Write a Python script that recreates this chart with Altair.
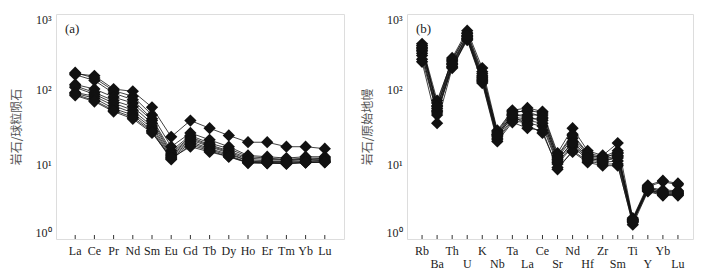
import altair as alt
import pandas as pd

# ---------------- data ----------------
ree = ["La", "Ce", "Pr", "Nd", "Sm", "Eu", "Gd", "Tb", "Dy", "Ho", "Er", "Tm", "Yb", "Lu"]
ree_s1 = [160, 150, 100, 93, 57, 23, 38, 30, 24, 19.5, 19.5, 17, 17, 16]
ree_s2 = [165, 140, 95, 80, 45, 17, 26, 21, 17, 13, 12.5, 12, 12.5, 12.5]
ree_s3 = [155, 130, 88, 72, 40, 15, 24, 19, 16, 12.5, 12, 11.5, 12, 12]
ree_s4 = [115, 100, 78, 65, 38, 14, 23, 18, 15, 12, 11.5, 11.5, 11.5, 12]
ree_s5 = [110, 90, 70, 58, 35, 13.5, 22, 17.5, 14.5, 11.5, 11, 11, 11.5, 11.5]
ree_s6 = [105, 85, 65, 52, 32, 13, 21, 17, 14, 11, 10.8, 10.8, 11, 11.2]
ree_s7 = [90, 80, 60, 48, 30, 12.5, 20, 16, 13.5, 11, 10.5, 10.5, 10.8, 11]
ree_s8 = [88, 75, 55, 45, 28, 12, 19, 15.5, 13, 10.5, 10.3, 10.3, 10.5, 10.8]
ree_s9 = [85, 70, 52, 42, 27, 11.5, 18, 15, 12.5, 10.3, 10.2, 10.2, 10.4, 10.6]
ree_s10 = [82, 68, 50, 40, 26, 12, 17, 14.5, 12.5, 10.5, 10.5, 10, 10.5, 10.5]

spider = ["Rb", "Ba", "Th", "U", "K", "Nb", "Ta", "La", "Ce", "Sr", "Nd", "Hf", "Zr", "Sm", "Ti", "Y", "Yb", "Lu"]
sp_s1 = [400, 55, 260, 600, 190, 28, 52, 56, 50, 14, 30, 15, 13, 19, 1.9, 5.2, 6.0, 5.5]
sp_s2 = [380, 70, 240, 560, 170, 26, 48, 52, 48, 13, 25, 14, 12.5, 15, 1.85, 5.0, 5.8, 5.3]
sp_s3 = [350, 60, 230, 520, 150, 25, 45, 45, 45, 12, 22, 13, 12, 14, 1.8, 4.8, 4.2, 4.2]
sp_s4 = [330, 50, 220, 500, 140, 24, 42, 40, 40, 11, 20, 12.5, 11.5, 13, 1.75, 4.7, 4.0, 4.0]
sp_s5 = [300, 45, 210, 480, 130, 22, 40, 38, 35, 10.5, 18, 12, 11, 12, 1.7, 4.6, 3.9, 3.9]
sp_s6 = [280, 52, 200, 460, 125, 21, 38, 35, 32, 10, 17, 11.5, 10.5, 11, 1.7, 4.5, 4.1, 4.1]
sp_s7 = [230, 35, 190, 450, 120, 20, 36, 30, 28, 8.5, 15, 11, 10, 10, 1.55, 4.3, 3.8, 3.8]
sp_s8 = [320, 65, 250, 550, 160, 27, 50, 50, 42, 12.5, 24, 13.5, 12, 14, 1.8, 4.9, 4.5, 4.4]
sp_s9 = [250, 48, 195, 470, 135, 23, 44, 33, 26, 9, 14.5, 10.5, 9.5, 9.5, 1.65, 4.4, 3.9, 4.0]
sp_s10 = [360, 58, 215, 510, 145, 24.5, 46, 42, 38, 11.5, 19, 12, 11, 12.5, 1.75, 4.8, 4.3, 4.3]

ree_series = [ree_s1, ree_s2, ree_s3, ree_s4, ree_s5, ree_s6, ree_s7, ree_s8, ree_s9, ree_s10]
sp_series = [sp_s1, sp_s2, sp_s3, sp_s4, sp_s5, sp_s6, sp_s7, sp_s8, sp_s9, sp_s10]

y_ticks = [1, 10, 100, 1000]

SERIF = "Liberation Serif, Times New Roman, serif"


def make_df(elems, series):
    rows = []
    for k, s in enumerate(series):
        for i, (e, v) in enumerate(zip(elems, s)):
            rows.append({"idx": i, "elem": e, "value": v, "series": f"s{k+1}"})
    return pd.DataFrame(rows)


def make_panel(elems, series, ytitle, tag, W, H, staggered):
    df = make_df(elems, series)
    n = len(elems)
    lab = pd.DataFrame({"idx": list(range(n)), "elem": elems,
                        "row": [(i % 2 if staggered else 0) for i in range(n)]})
    xs = alt.Scale(domain=[-1, n], nice=False, zero=False)
    ys = alt.Scale(type="log", domain=[1, 1000], nice=False)
    x = alt.X("idx:Q", scale=xs, axis=None)
    yaxis = alt.Axis(values=y_ticks, grid=False, ticks=False, domain=False,
                     labelExpr="datum.value == 1 ? '10⁰' : datum.value == 10 ? '10¹' : datum.value == 100 ? '10²' : '10³'",
                     labelFont=SERIF, labelFontSize=12, labelColor="#222",
                     labelFlush=True,
                     labelPadding=5, minExtent=23, maxExtent=23,
                     title=ytitle, titleFont="Noto Sans CJK SC", titleFontSize=12,
                     titleFontWeight="normal", titleColor="#555", titlePadding=10)
    y = alt.Y("value:Q", scale=ys, axis=yaxis)

    base = alt.Chart(df)
    lines = base.mark_line(color="#111", strokeWidth=0.8).encode(x=x, y=y, detail="series:N")
    pts = base.mark_point(shape="diamond", filled=True, color="#111", size=150, opacity=1).encode(
        x=x, y=y, detail="series:N")

    labc = alt.Chart(lab)
    ticks = labc.mark_rule(color="#333", strokeWidth=1).encode(
        x=alt.X("idx:Q", scale=xs, axis=None), y=alt.value(H - 4), y2=alt.value(H))
    layers = [lines, pts, ticks]
    for r in ([0, 1] if staggered else [0]):
        t = labc.transform_filter(alt.datum.row == r).mark_text(
            font=SERIF, fontSize=12, color="#222", baseline="middle").encode(
            x=alt.X("idx:Q", scale=xs, axis=None), y=alt.value(H + 12 + 13 * r), text="elem:N")
        layers.append(t)
    tagc = alt.Chart(pd.DataFrame({"t": [tag]})).mark_text(
        font=SERIF, fontSize=13, color="#222", align="left", baseline="middle").encode(
        x=alt.value(9), y=alt.value(15), text="t:N")
    layers.append(tagc)
    return alt.layer(*layers).properties(width=W, height=H)


H = 225
pa = make_panel(ree, ree_series, "岩石/球粒陨石", "(a)", 288, H, False)
pb = make_panel(spider, sp_series, "岩石/原始地幔", "(b)", 286, H, True)

chart = alt.hconcat(pa, pb, spacing=15).properties(
    padding={"left": 1, "top": 4, "right": 0, "bottom": 0}
).configure_view(stroke="#333", strokeWidth=1).configure(background="white")

chart.save("out.html", embed_options={"renderer": "svg", "actions": False})
